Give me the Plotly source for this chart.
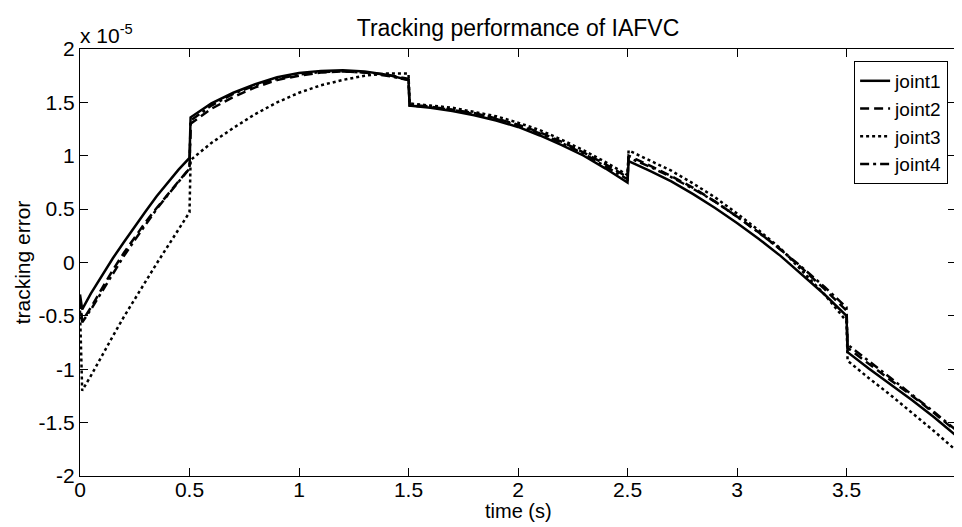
import plotly.graph_objects as go

# time samples (s); jumps at 0.5, 1.5, 2.5, 3.5 use a second sample just after
time_s = [0, 0.01, 0.05, 0.1, 0.15, 0.2, 0.25, 0.3, 0.35, 0.4, 0.45, 0.5,
          0.505, 0.6, 0.7, 0.8, 0.9, 1.0, 1.1, 1.2, 1.3, 1.4, 1.5,
          1.505, 1.6, 1.7, 1.8, 1.9, 2.0, 2.1, 2.2, 2.3, 2.4, 2.5,
          2.505, 2.6, 2.7, 2.8, 2.9, 3.0, 3.1, 3.2, 3.3, 3.4, 3.5,
          3.505, 3.6, 3.7, 3.8, 3.9, 4.0]

# tracking error, in units of 1e-5
joint1 = [-0.30, -0.44, -0.29, -0.12, 0.04, 0.19, 0.34, 0.48, 0.62, 0.75, 0.87, 0.98,
          1.36, 1.49, 1.59, 1.67, 1.735, 1.775, 1.795, 1.80, 1.79, 1.76, 1.71,
          1.47, 1.45, 1.42, 1.38, 1.33, 1.27, 1.19, 1.10, 1.00, 0.88, 0.75,
          0.95, 0.86, 0.76, 0.64, 0.51, 0.37, 0.22, 0.06, -0.12, -0.30, -0.50,
          -0.84, -0.99, -1.14, -1.29, -1.45, -1.62]
joint2 = [-0.35, -0.55, -0.42, -0.24, -0.07, 0.09, 0.24, 0.38, 0.51, 0.64, 0.76, 0.88,
          1.30, 1.44, 1.55, 1.64, 1.71, 1.75, 1.78, 1.79, 1.78, 1.76, 1.72,
          1.48, 1.46, 1.43, 1.40, 1.35, 1.29, 1.22, 1.13, 1.03, 0.92, 0.80,
          1.00, 0.91, 0.81, 0.70, 0.57, 0.43, 0.28, 0.12, -0.06, -0.25, -0.45,
          -0.80, -0.95, -1.10, -1.25, -1.41, -1.58]
joint3 = [-0.45, -1.20, -1.06, -0.87, -0.69, -0.51, -0.34, -0.17, -0.01, 0.15, 0.31, 0.47,
          0.96, 1.12, 1.26, 1.39, 1.50, 1.59, 1.66, 1.71, 1.75, 1.77, 1.77,
          1.49, 1.47, 1.45, 1.41, 1.37, 1.31, 1.24, 1.15, 1.05, 0.94, 0.82,
          1.05, 0.96, 0.86, 0.74, 0.61, 0.46, 0.30, 0.13, -0.08, -0.30, -0.55,
          -0.92, -1.08, -1.24, -1.41, -1.58, -1.76]
joint4 = [-0.35, -0.56, -0.44, -0.27, -0.10, 0.06, 0.21, 0.36, 0.50, 0.63, 0.76, 0.88,
          1.33, 1.47, 1.58, 1.66, 1.72, 1.76, 1.785, 1.79, 1.78, 1.75, 1.71,
          1.47, 1.455, 1.43, 1.39, 1.345, 1.285, 1.21, 1.12, 1.02, 0.90, 0.78,
          0.98, 0.90, 0.80, 0.69, 0.57, 0.43, 0.28, 0.12, -0.05, -0.23, -0.42,
          -0.77, -0.92, -1.08, -1.24, -1.40, -1.57]

names = ["joint1", "joint2", "joint3", "joint4"]
# matlab-ish line styles: '-', '--', ':', '-.'
dashes = ["solid", "9px,5px", "3px,3px", "9px,4px,3px,4px"]

x_ticks = [0, 0.5, 1, 1.5, 2, 2.5, 3, 3.5, 4]
x_ticktext = ["0", "0.5", "1", "1.5", "2", "2.5", "3", "3.5", "4"]
y_ticks = [-2, -1.5, -1, -0.5, 0, 0.5, 1, 1.5, 2]
y_ticktext = ["-2", "-1.5", "-1", "-0.5", "0", "0.5", "1", "1.5", "2"]

FONT = "Liberation Sans, Arial, sans-serif"
FS = 21

fig = go.Figure()
for name, dash, vals in zip(names, dashes, [joint1, joint2, joint3, joint4]):
    fig.add_trace(go.Scatter(
        x=time_s, y=vals, name=name, mode="lines",
        line=dict(color="black", width=2.5, dash=dash),
    ))

axis_style = dict(
    showline=True, linecolor="black", linewidth=1, mirror="ticks",
    ticks="inside", ticklen=8, tickcolor="black", tickwidth=1,
    showgrid=False, zeroline=False,
    tickfont=dict(family=FONT, size=FS, color="black"),
)
fig.update_xaxes(range=[0, 4], tickvals=x_ticks, ticktext=x_ticktext,
                 ticklabelstandoff=-5, **axis_style)
fig.update_yaxes(range=[-2, 2], tickvals=y_ticks, ticktext=y_ticktext,
                 title=dict(text="tracking error", standoff=2,
                            font=dict(family=FONT, size=FS, color="black")),
                 **axis_style)

# x label sits tight under the tick labels, as in the matlab figure
fig.add_annotation(x=0.5, y=0, xref="paper", yref="paper", xanchor="center", yanchor="bottom",
                   yshift=-48, text="time (s)", showarrow=False,
                   font=dict(family=FONT, size=20, color="black"))
fig.add_annotation(x=0, y=1, xref="paper", yref="paper", xanchor="left", yanchor="bottom",
                   xshift=-2, text="x 10<sup>-5</sup>", showarrow=False,
                   font=dict(family=FONT, size=FS, color="black"))

# the page body adds an 8px margin, so the figure is 8px smaller than the window
fig.update_layout(
    width=954, height=519,
    margin=dict(l=72, r=6, t=41, b=51),
    paper_bgcolor="white", plot_bgcolor="white",
    title=dict(text="Tracking performance of IAFVC", x=0.5, xref="paper", xanchor="center",
               y=1, yref="paper", yanchor="bottom", pad=dict(b=13),
               font=dict(family=FONT, size=23, color="black")),
    legend=dict(x=0.991, y=0.972, xanchor="right", yanchor="top",
                bordercolor="black", borderwidth=1, bgcolor="white",
                font=dict(family=FONT, size=19, color="black"),
                tracegroupgap=0, itemwidth=30),
    showlegend=True,
)

fig.write_html("out.html")
